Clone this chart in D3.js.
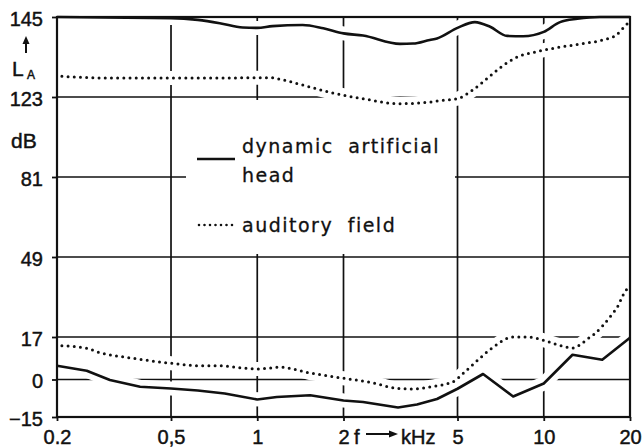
<!DOCTYPE html>
<html><head><meta charset="utf-8">
<script src="https://cdn.jsdelivr.net/npm/d3@7"></script>
<style>
html,body{margin:0;padding:0;background:#fff;}
svg{display:block;}
</style></head>
<body>
<svg id="chart" width="643" height="448"></svg>
<script>
// ---------- data ----------
const xTickValues = [0.2, 0.5, 1, 2, 5, 10, 20];
const xTickLabels = ["0.2", "0,5", "1", "2", "5", "10", "20"];
const yTickValues = [145, 123, 81, 49, 17, 0, -15];
const yTickLabels = ["145", "123", "81", "49", "17", "0", "\u221215"];
const yScaleBreaks = [-15, 81, 123, 145];

// dynamic artificial head - upper limit (kHz, dB)
const headUpperF = [0.2, 0.35, 0.5, 0.62, 0.74, 0.89, 1.0, 1.13, 1.44, 1.7, 2.0, 2.34, 3.15, 3.5, 4.0, 4.24, 5.0, 5.75, 6.5, 7.45, 8.47, 10, 11.4, 13.1, 15.7, 20];
const headUpperL = [145, 144.8, 144.7, 144.2, 143.3, 142.1, 142, 142.5, 142.8, 141.9, 140.5, 139.9, 137.6, 137.7, 138.7, 139.1, 142, 143.6, 142.3, 139.8, 139.7, 140.9, 143.6, 144.5, 145, 145];
// dynamic artificial head - lower limit
const headLowerF = [0.2, 0.254, 0.306, 0.39, 0.5, 0.62, 0.77, 1.0, 1.17, 1.53, 2.0, 2.34, 3.1, 3.61, 4.24, 5.0, 6.14, 7.82, 10, 12.6, 16.0, 20];
const headLowerL = [5.5, 3.5, -0.2, -2.9, -3.6, -4.4, -5.6, -8.0, -7.0, -6.3, -8.4, -9.0, -11.2, -10.0, -7.8, -3.7, 2.2, -6.8, -1.6, 9.9, 7.9, 16.7];
// auditory field - upper limit
const fieldUpperF = [0.208, 0.3, 0.5, 0.75, 1.0, 1.11, 1.23, 1.41, 1.84, 2.42, 2.9, 3.15, 4.0, 4.35, 5.0, 5.62, 6.34, 7.03, 7.94, 9.47, 10.8, 13.4, 16.1, 18.0, 18.9, 20];
const fieldUpperL = [128.7, 128.2, 128.2, 128.2, 128.3, 128.3, 127.7, 126.5, 124.1, 121.7, 119.8, 119.5, 120.3, 121.1, 122.1, 124.8, 128.1, 131, 133.7, 135.5, 136.4, 137.6, 138.7, 140.2, 141.9, 143.9];
// auditory field - lower limit (threshold)
const fieldLowerF = [0.208, 0.254, 0.283, 0.368, 0.5, 0.63, 0.73, 1.0, 1.2, 1.53, 2.0, 2.48, 3.07, 3.5, 4.0, 4.82, 5.23, 5.89, 6.6, 7.82, 8.95, 10, 11.2, 12.6, 13.4, 14.2, 14.9, 16.0, 17.3, 18.2, 18.9, 20];
const fieldLowerL = [13.5, 12.5, 10.7, 8.5, 6.5, 5.5, 5.5, 4.2, 4.9, 2.6, 0.5, -1.1, -3.5, -3.8, -3.0, -0.9, 2.4, 7.8, 12.6, 17, 16.9, 15.7, 13.9, 12.6, 13.9, 16.2, 17.9, 21.3, 26, 29.6, 33.7, 37.7];

const legendLabels = ["dynamic artificial", "head", "auditory field"];
const yAxisTitle = ["L", "A", "dB"];
const xAxisTitle = ["f", "kHz"];

// ---------- layout ----------
const plot = {left: 57, right: 630, top: 17, bottom: 417};
const band = (plot.bottom - plot.top) / 5;
const FONT = "'Liberation Sans', Arial, sans-serif";
const LFONT = "'DejaVu Sans', sans-serif";
const INK = "#111";

const svg = d3.select("#chart");
const x = d3.scaleLog().domain([0.2, 20]).range([plot.left, plot.right]);
const y = d3.scaleLinear().domain(yScaleBreaks)
  .range([plot.bottom, plot.bottom - 3 * band, plot.bottom - 4 * band, plot.top]);

const zip = (f, l) => f.map((v, i) => [v, l[i]]);
const headUpper = zip(headUpperF, headUpperL);
const headLower = zip(headLowerF, headLowerL);
const fieldUpper = zip(fieldUpperF, fieldUpperL);
const fieldLower = zip(fieldLowerF, fieldLowerL);

const smooth = d3.line().x(d => x(d[0])).y(d => y(d[1])).curve(d3.curveMonotoneX);
const straight = d3.line().x(d => x(d[0])).y(d => y(d[1])).curve(d3.curveLinear);

// ---------- grid ----------
const grid = svg.append("g").attr("stroke", INK).attr("stroke-width", 1.7);
grid.selectAll("line.v").data(xTickValues.slice(1, -1)).join("line")
  .attr("x1", d => x(d)).attr("x2", d => x(d))
  .attr("y1", plot.top).attr("y2", plot.bottom);
grid.selectAll("line.h").data(yTickValues.slice(1, -1)).join("line")
  .attr("y1", d => y(d)).attr("y2", d => y(d))
  .attr("x1", plot.left).attr("x2", plot.right);

// legend box clears the grid
svg.append("rect").attr("x", 186).attr("y", 100).attr("width", 269).attr("height", 154).attr("fill", "#fff");

// white halos where curves cross the grid
const curves = [
  {d: headUpper, gen: smooth, dotted: false},
  {d: headLower, gen: straight, dotted: false},
  {d: fieldUpper, gen: smooth, dotted: true},
  {d: fieldLower, gen: smooth, dotted: true}
];
svg.append("g").selectAll("path").data(curves).join("path")
  .attr("d", c => c.gen(c.d)).attr("fill", "none")
  .attr("stroke", "#fff").attr("stroke-width", 14);

// ---------- axes ----------
const yAxis = d3.axisLeft(y).tickValues(yTickValues)
  .tickFormat((d, i) => yTickLabels[i]).tickSize(5).tickPadding(9);
const gy = svg.append("g").attr("transform", `translate(${plot.left},0)`).call(yAxis);
const xAxis = d3.axisBottom(x).tickValues(xTickValues)
  .tickFormat((d, i) => xTickLabels[i]).tickSize(4).tickPadding(9);
const gx = svg.append("g").attr("transform", `translate(0,${plot.bottom})`).call(xAxis);
[gx, gy].forEach(g => {
  g.select(".domain").remove();
  g.selectAll(".tick line").attr("stroke", INK).attr("stroke-width", 1.8);
  g.selectAll(".tick text").attr("font-family", FONT).attr("font-size", 20)
    .attr("fill", INK).attr("stroke", INK).attr("stroke-width", 0.45);
});
gy.selectAll(".tick text").attr("dy", "0.4em");

// frame
svg.append("rect").attr("x", plot.left).attr("y", plot.top)
  .attr("width", plot.right - plot.left).attr("height", plot.bottom - plot.top)
  .attr("fill", "none").attr("stroke", INK).attr("stroke-width", 2.2);

// ---------- curves ----------
svg.append("g").selectAll("path").data(curves).join("path")
  .attr("d", c => c.gen(c.d)).attr("fill", "none").attr("stroke", INK)
  .attr("stroke-width", c => c.dotted ? 3 : 2.6)
  .attr("stroke-dasharray", c => c.dotted ? "0 6.2" : null)
  .attr("stroke-linecap", c => c.dotted ? "round" : "butt")
  .attr("stroke-linejoin", "round");

// ---------- axis titles ----------
const t = (sel, txt, px, py, size, fam) => sel.append("text").text(txt)
  .attr("x", px).attr("y", py).attr("font-family", fam || FONT).attr("font-size", size)
  .attr("fill", INK).attr("stroke", INK).attr("stroke-width", 0.45);
t(svg, yAxisTitle[0], 12, 76, 21);
t(svg, yAxisTitle[1], 27, 79, 12);
t(svg, yAxisTitle[2], 11, 148, 21);
svg.append("line").attr("x1", 26).attr("x2", 26).attr("y1", 53).attr("y2", 42)
  .attr("stroke", INK).attr("stroke-width", 2);
svg.append("path").attr("d", "M26,36 L22.5,44 L29.5,44 Z").attr("fill", INK);

t(svg, xAxisTitle[0], 354, 444, 20);
t(svg, xAxisTitle[1], 401, 444, 20);
svg.append("line").attr("x1", 366).attr("x2", 390).attr("y1", 434).attr("y2", 434)
  .attr("stroke", INK).attr("stroke-width", 2);
svg.append("path").attr("d", "M398,434 L389,430.5 L389,437.5 Z").attr("fill", INK);

// ---------- legend ----------
const lg = svg.append("g");
lg.append("line").attr("x1", 197).attr("x2", 235).attr("y1", 159).attr("y2", 159)
  .attr("stroke", INK).attr("stroke-width", 2.6);
lg.append("line").attr("x1", 199).attr("x2", 235).attr("y1", 225).attr("y2", 225)
  .attr("stroke", INK).attr("stroke-width", 2.6).attr("stroke-dasharray", "0 5.5")
  .attr("stroke-linecap", "round");
[[legendLabels[0], 153], [legendLabels[1], 182], [legendLabels[2], 232]].forEach(([s, by]) => {
  t(lg, s, 242, by, 19, LFONT).attr("letter-spacing", "1.5px").attr("word-spacing", "7px")
    .attr("stroke-width", 0.3);
});
</script>
</body></html>
